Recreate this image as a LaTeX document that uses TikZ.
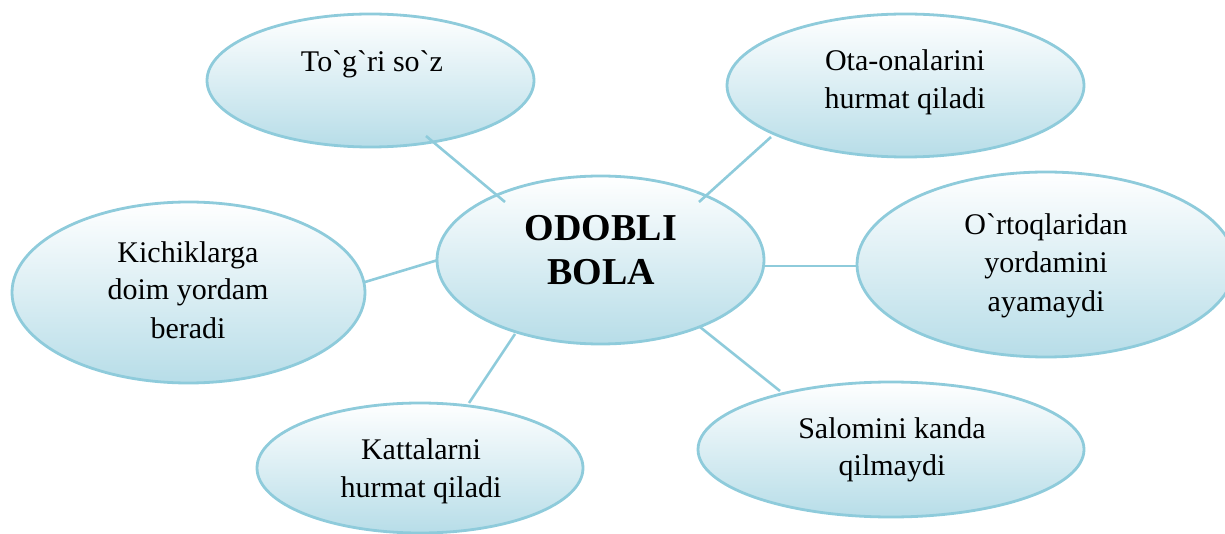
\documentclass[tikz,border=0pt]{standalone}
\usepackage{fontspec}
\setmainfont{Liberation Serif}[Ligatures=TeXOff]
\usetikzlibrary{shapes.geometric}
\definecolor{edgeblue}{RGB}{142,203,219}
\definecolor{fillblue}{RGB}{183,221,232}
\tikzset{
  bub/.style={ellipse, draw=edgeblue, line width=2.8pt, top color=white, bottom color=fillblue, inner sep=0pt},
  link/.style={draw=edgeblue, line width=2.6pt},
  txt/.style={anchor=base, inner sep=0pt, font=\fontsize{30}{36}\selectfont},
  btxt/.style={anchor=base, inner sep=0pt, font=\fontsize{38}{44}\selectfont\bfseries}
}
\begin{document}
\begin{tikzpicture}[x=1pt,y=-1pt]
\useasboundingbox (0,0) rectangle (1225,534);
% ellipses
\node[bub, minimum width=327pt, minimum height=133pt] (togri) at (370.5,80.5) {};
\node[bub, minimum width=357pt, minimum height=143pt] (ota) at (905.5,85.5) {};
\node[bub, minimum width=378pt, minimum height=185pt] (ortoq) at (1046,264.5) {};
\node[bub, minimum width=327pt, minimum height=168pt] (markaz) at (600.5,260) {};
\node[bub, minimum width=353pt, minimum height=181pt] (kichik) at (188.5,292.5) {};
\node[bub, minimum width=326pt, minimum height=130pt] (katta) at (420,468) {};
\node[bub, minimum width=386pt, minimum height=135pt] (salom) at (891,449.5) {};
% connector end points
\coordinate (pTogri) at (426,136);
\coordinate (qTogri) at (505,202);
\coordinate (pOta) at (771,137);
\coordinate (qOta) at (699,202);
\coordinate (pOrtoq) at (857,266);
\coordinate (qOrtoq) at (764,266);
\coordinate (pKichik) at (365,282);
\coordinate (qKichik) at (438,260);
\coordinate (pKatta) at (469,403);
\coordinate (qKatta) at (515,334);
\coordinate (pSalom) at (780,391);
\coordinate (qSalom) at (700,327);
\draw[link] (pTogri) -- (qTogri);
\draw[link] (pOta) -- (qOta);
\draw[link] (pOrtoq) -- (qOrtoq);
\draw[link] (pKichik) -- (qKichik);
\draw[link] (pKatta) -- (qKatta);
\draw[link] (pSalom) -- (qSalom);
% texts
\node[txt] (tTogri) at (372,72) {To`g`ri so`z};
\node[txt] (tOta1) at (905,71) {Ota-onalarini};
\node[txt] (tOta2) at (905,109) {hurmat qiladi};
\node[txt] (tOrt1) at (1046,235) {O`rtoqlaridan};
\node[txt] (tOrt2) at (1046,273) {yordamini};
\node[txt] (tOrt3) at (1046,312) {ayamaydi};
\node[btxt] (tMar1) at (601,241) {ODOBLI};
\node[btxt] (tMar2) at (601,285) {BOLA};
\node[txt] (tKic1) at (188,263) {Kichiklarga};
\node[txt] (tKic2) at (188,300) {doim yordam};
\node[txt] (tKic3) at (188,338) {beradi};
\node[txt] (tKat1) at (421,459) {Kattalarni};
\node[txt] (tKat2) at (421,497) {hurmat qiladi};
\node[txt] (tSal1) at (892,438) {Salomini kanda};
\node[txt] (tSal2) at (892,475) {qilmaydi};
\end{tikzpicture}
\end{document}
